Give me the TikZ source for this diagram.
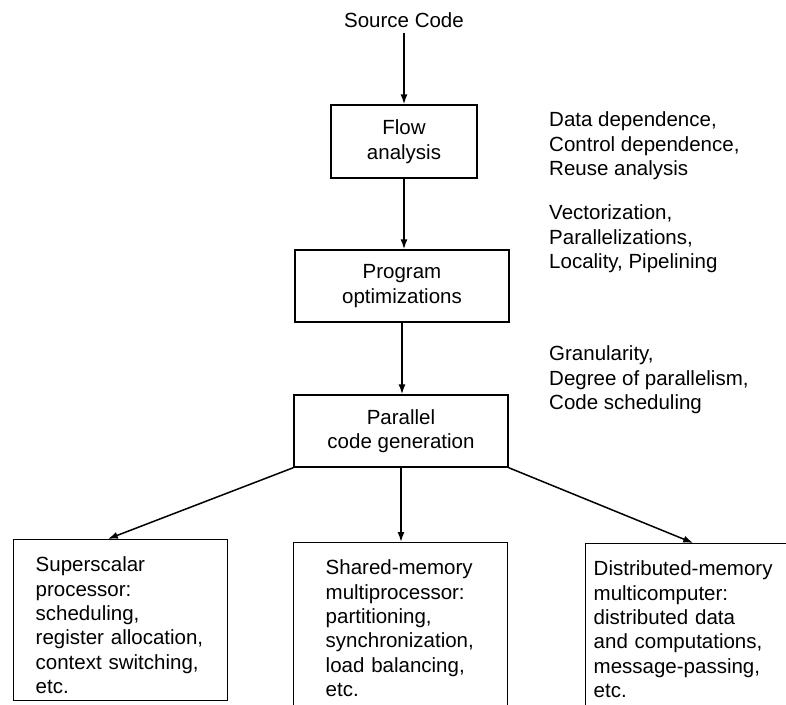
\documentclass[tikz,border=0pt]{standalone}
\usepackage{fontspec}
\setmainfont{Liberation Sans}
\usetikzlibrary{arrows.meta,calc}
\begin{document}
\begin{tikzpicture}[x=1pt,y=-1pt,
  every node/.style={font=\fontsize{20.5}{24.4}\selectfont, inner sep=0pt},
  box/.style={draw, line width=1.4pt, align=center},
  bbox/.style={draw, line width=1.4pt, align=left, anchor=north west,
    inner ysep=17pt, text height=15pt},
  note/.style={align=left, anchor=west},
  arr/.style={-{Latex[length=10pt,width=7pt]}, line width=1.5pt}]
\clip (0,0) rectangle (786,704);
\fill[white] (0,0) rectangle (786,704);

\node[inner sep=5pt] (src) at (404,20) {Source Code};
\node[box, minimum width=146pt, minimum height=73pt] (flow) at (404,141.5) {Flow\\analysis};
\node[box, minimum width=214pt, minimum height=72pt] (prog) at (402,286) {Program\\optimizations};
\node[box, minimum width=214pt, minimum height=72pt] (par) at (401,431) {Parallel\\code generation};

\node[bbox, inner xsep=22pt, text width=170pt, text depth=112pt] (lbox) at (13,539)
  {Superscalar\\processor:\\scheduling,\\register allocation,\\context switching,\\etc.};
\node[bbox, inner xsep=32pt, text width=150pt, text depth=140pt] (mbox) at (293,542)
  {Shared-memory\\multiprocessor:\\partitioning,\\synchronization,\\load balancing,\\etc.};
\node[bbox, inner xsep=8pt, text width=199pt, text depth=140pt] (rbox) at (585,543)
  {Distributed-memory\\multicomputer:\\distributed data\\and computations,\\message-passing,\\etc.};

\node[note] (n1) at (549,146) {Data dependence,\\Control dependence,\\Reuse analysis};
\node[note] (n2) at (549,239) {Vectorization,\\Parallelizations,\\Locality, Pipelining};
\node[note] (n3) at (549,380) {Granularity,\\Degree of parallelism,\\Code scheduling};

\draw[arr] (src.south) -- (flow.north);
\draw[arr] (flow.south) -- (flow.south |- prog.north);
\draw[arr] (prog.south) -- (prog.south |- par.north);
\draw[arr] (par.south) -- (par.south |- mbox.north);
\draw[arr] (par.south west) -- ($(lbox.north west)!0.44!(lbox.north east)$);
\draw[arr] (par.south east) -- (rbox.north);
\end{tikzpicture}
\end{document}
